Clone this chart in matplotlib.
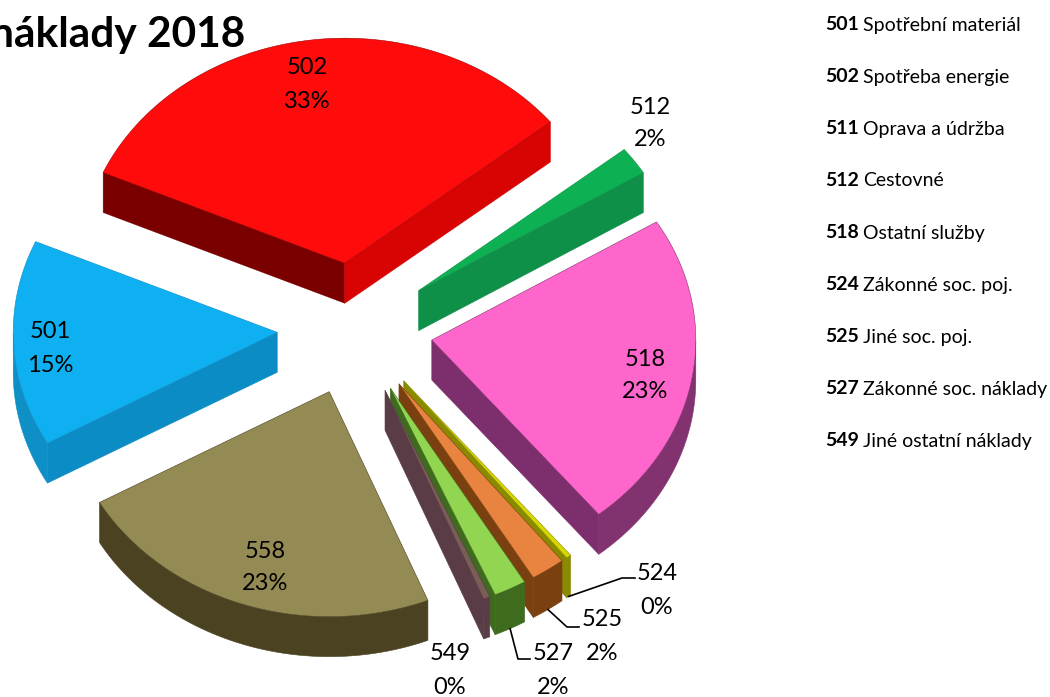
import numpy as np
import matplotlib
matplotlib.use('Agg')
import matplotlib.pyplot as plt

plt.rcParams['font.family'] = ['Lato', 'DejaVu Sans']

# Slices, clockwise starting from 501
codes = ['501', '502', '512', '518', '524', '525', '527', '549', '558']
values = [14.8, 32.6, 2.0, 22.9, 0.3, 2.1, 2.0, 0.4, 22.9]

legend_codes = ['501', '502', '511', '512', '518', '524', '525', '527', '549']
legend_names = ['Spotřební materiál', 'Spotřeba energie', 'Oprava a údržba', 'Cestovné',
                'Ostatní služby', 'Zákonné soc. poj.', 'Jiné soc. poj.',
                'Zákonné soc. náklady', 'Jiné ostatní náklady']

# Colours: top face, start wall, end wall, outer wall
top_colors = ['#0fb0f2', '#ff0b0b', '#0db052', '#ff66cc', '#d8d800', '#e8843f', '#92d550', '#7a5c58', '#948a54']
start_walls = ['#0c8cc4', '#7a0000', '#0e9048', '#7c2f6c', '#8a8a00', '#7a4010', '#3f6b1e', '#5a3c46', '#4a4220']
end_walls = ['#0e85b5', '#d80404', '#0e9048', '#7c2f6c', '#8a8a00', '#7a4010', '#3f6b1e', '#5a3c46', '#4a4220']
arc_walls = ['#0e8fc6', '#a00000', '#0e9048', '#82326f', '#8a8a00', '#7a4010', '#3f6b1e', '#5a3c46', '#4a4220']

# Label centres in picture pixels
label_x = [50, 307, 650, 645, 657, 602, 553, 450, 265]
label_y = [349, 85, 124, 376, 591, 637, 671, 671, 568]

# Pie projection
cx, cy = 355, 329
rx, ry = 264, 225
explode = 0.295
depth = 40
start_angle = 209.5


def wall_visible(ox, oy, ex, ey, mx, my):
    # a straight wall shows when the top face lies above its edge
    if abs(ex - ox) < 1e-6:
        return False
    return my < oy + (ey - oy) / (ex - ox) * (mx - ox)


fig = plt.figure(figsize=(10.5, 6.97), dpi=100)
ax = fig.add_axes([0, 0, 1, 1])
ax.set_xlim(0, 1050)
ax.set_ylim(697, 0)
ax.axis('off')

fractions = np.array(values) / sum(values)
ends = start_angle - np.cumsum(fractions) * 360
starts = ends + fractions * 360
mids = (starts + ends) / 2

order = sorted(range(len(codes)), key=lambda i: -np.sin(np.radians(mids[i])))

outer_points = {}
for z, i in enumerate(order):
    m = np.radians(mids[i])
    ox = cx + explode * rx * np.cos(m)
    oy = cy - explode * ry * np.sin(m)
    t = np.radians(np.linspace(starts[i], ends[i], 120))
    px = ox + rx * np.cos(t)
    py = oy - ry * np.sin(t)
    mx = ox + rx * np.cos(m)
    my = oy - ry * np.sin(m)
    base = z * 5 + 1

    if wall_visible(ox, oy, px[0], py[0], mx, my):
        ax.fill([ox, px[0], px[0], ox], [oy, py[0], py[0] + depth, oy + depth],
                color=start_walls[i], lw=0.4, zorder=base)
    if wall_visible(ox, oy, px[-1], py[-1], mx, my):
        ax.fill([ox, px[-1], px[-1], ox], [oy, py[-1], py[-1] + depth, oy + depth],
                color=end_walls[i], lw=0.4, zorder=base + 1)
    front = np.sin(t) < 0
    if front.any():
        ax.fill(np.r_[px[front], px[front][::-1]], np.r_[py[front], py[front][::-1] + depth],
                color=arc_walls[i], lw=0.4, zorder=base + 2)
    ax.fill(np.r_[ox, px], np.r_[oy, py], facecolor=top_colors[i],
            edgecolor=arc_walls[i], lw=0.4, zorder=base + 3)

    outer_points[codes[i]] = (mx, my + depth)

# Leader lines: elbow and end next to the label
leaders = {'524': [(622, 578), (635, 578)],
           '525': [(567, 627), (579, 627)],
           '527': [(518, 659), (530, 659)]}
for code, pts in leaders.items():
    p0 = outer_points[code]
    xs = [p0[0]] + [p[0] for p in pts]
    ys = [p0[1]] + [p[1] for p in pts]
    ax.plot(xs, ys, color='black', lw=1.2, zorder=100)

# Data labels
for code, frac, x, y in zip(codes, fractions, label_x, label_y):
    ax.text(x, y - 17, code, fontsize=17, ha='center', va='center', color='black', zorder=101)
    ax.text(x, y + 16, '%d%%' % round(frac * 100), fontsize=17, ha='center', va='center',
            color='black', zorder=101)

# Title runs off the left edge, as in the original
ax.text(245, 35, 'náklady 2018', fontsize=30.5, fontweight='bold', ha='right', va='center',
        color='black', zorder=102)

# Side list
fig.canvas.draw()
renderer = fig.canvas.get_renderer()
for k, (code, name) in enumerate(zip(legend_codes, legend_names)):
    y = 25 + k * 52
    t = ax.text(825, y, code, fontsize=14, fontweight='bold', ha='left', va='center')
    x1 = t.get_window_extent(renderer).x1
    ax.text(x1 + 4, y, name, fontsize=14, ha='left', va='center')

fig.savefig('out.png', dpi=100)
